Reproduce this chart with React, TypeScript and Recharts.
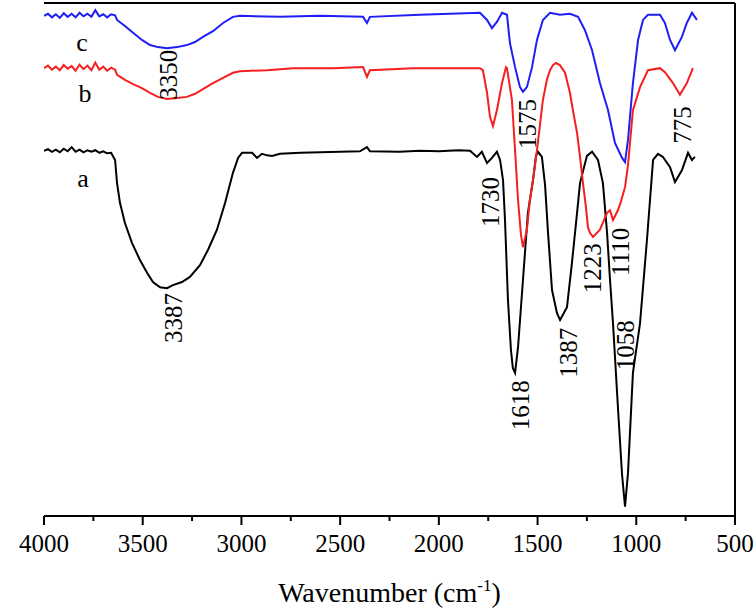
import React from 'react';
import { LineChart, Line, XAxis, YAxis, ReferenceLine, ReferenceDot, Label } from 'recharts';

const FONT = "'Liberation Serif', 'DejaVu Serif', serif";
const textStyle = { fontFamily: FONT };

// x axis ticks (wavenumber, cm-1)
const majorTicks = [4000, 3500, 3000, 2500, 2000, 1500, 1000, 500];
const minorTicks = [3750, 3250, 2750, 2250, 1750, 1250, 750];
const allTicks = [...majorTicks, ...minorTicks].sort((a, b) => b - a);

// spectrum a (black)
const waveA = [4000, 3980, 3960, 3940, 3920, 3900, 3880, 3860, 3840, 3820, 3800, 3780, 3760, 3740, 3720, 3700, 3680, 3660, 3640, 3630, 3615, 3590, 3554, 3514, 3478, 3448, 3412, 3377, 3347, 3301, 3261, 3210, 3169, 3124, 3083, 3043, 3017, 2997, 2946, 2921, 2896, 2870, 2845, 2805, 2700, 2600, 2500, 2400, 2364, 2349, 2200, 2096, 2000, 1900, 1842, 1807, 1782, 1756, 1731, 1706, 1690, 1675, 1665, 1650, 1635, 1625, 1614, 1599, 1574, 1549, 1523, 1508, 1498, 1478, 1462, 1447, 1427, 1402, 1386, 1351, 1326, 1300, 1285, 1250, 1224, 1194, 1169, 1148, 1133, 1118, 1093, 1072, 1057, 1042, 1017, 981, 946, 915, 890, 865, 829, 804, 769, 738, 718, 703];
const transA = [71.2, 71.5, 71.0, 71.4, 70.9, 71.6, 71.1, 71.9, 71.0, 71.4, 70.9, 71.3, 71.0, 71.3, 70.8, 71.1, 70.7, 70.8, 69.4, 64.9, 61.0, 57.1, 53.2, 49.9, 47.4, 45.6, 44.6, 44.4, 45.0, 45.6, 46.6, 48.9, 51.9, 55.8, 61.0, 66.9, 69.8, 70.8, 70.8, 69.8, 70.6, 70.3, 70.2, 70.6, 70.8, 70.9, 71.0, 71.1, 71.9, 71.1, 71.0, 71.2, 71.1, 71.3, 71.2, 70.0, 71.0, 68.8, 69.8, 71.0, 69.4, 65.5, 57.7, 42.1, 32.4, 28.8, 27.9, 32.9, 46.0, 59.1, 65.5, 70.2, 71.0, 70.0, 64.5, 55.2, 44.1, 39.6, 38.2, 40.7, 49.3, 59.1, 64.9, 70.2, 71.0, 69.4, 64.9, 55.2, 46.0, 37.6, 21.2, 8.0, 1.8, 8.4, 27.9, 37.6, 53.8, 69.4, 70.6, 70.0, 68.0, 65.1, 67.4, 70.8, 69.4, 70.0];

// spectrum b (red)
const waveB = [4000, 3980, 3960, 3940, 3920, 3900, 3880, 3860, 3840, 3820, 3800, 3780, 3760, 3740, 3720, 3700, 3680, 3660, 3640, 3630, 3590, 3549, 3504, 3463, 3423, 3377, 3326, 3276, 3235, 3195, 3144, 3093, 3043, 3007, 2870, 2739, 2536, 2384, 2364, 2349, 2131, 1944, 1792, 1777, 1756, 1741, 1726, 1706, 1680, 1660, 1655, 1630, 1614, 1599, 1584, 1574, 1554, 1539, 1523, 1503, 1488, 1473, 1453, 1437, 1422, 1407, 1387, 1361, 1336, 1321, 1300, 1285, 1270, 1255, 1245, 1235, 1219, 1184, 1148, 1133, 1118, 1093, 1080, 1057, 1042, 1017, 981, 941, 880, 855, 814, 779, 744, 713];
const transB = [87.3, 87.8, 87.0, 87.6, 86.9, 87.9, 87.2, 87.7, 86.8, 88.0, 87.1, 87.8, 86.9, 88.4, 87.0, 87.6, 86.8, 87.4, 87.0, 86.0, 85.0, 84.2, 83.4, 82.5, 81.7, 81.3, 81.5, 81.7, 82.3, 83.2, 84.4, 85.4, 86.4, 86.7, 86.9, 87.3, 87.3, 87.5, 85.6, 86.9, 87.3, 87.3, 87.3, 86.9, 82.5, 77.8, 76.0, 79.1, 84.4, 87.5, 87.3, 81.1, 71.3, 61.6, 54.8, 52.4, 55.8, 61.6, 65.5, 71.3, 76.2, 81.1, 85.0, 86.9, 87.9, 88.3, 87.9, 86.4, 82.5, 79.1, 74.7, 70.0, 64.9, 60.2, 56.3, 55.2, 54.4, 55.8, 59.1, 59.6, 57.7, 59.6, 61.0, 64.1, 68.4, 79.1, 83.6, 86.9, 87.3, 86.5, 84.4, 82.1, 84.4, 87.3];

// spectrum c (blue)
const waveC = [4000, 3980, 3960, 3940, 3920, 3900, 3880, 3860, 3840, 3820, 3800, 3780, 3760, 3740, 3720, 3700, 3680, 3660, 3640, 3630, 3590, 3549, 3504, 3463, 3423, 3377, 3326, 3276, 3235, 3195, 3144, 3093, 3043, 3007, 2805, 2602, 2384, 2364, 2349, 2096, 1792, 1756, 1731, 1706, 1680, 1655, 1640, 1614, 1589, 1574, 1554, 1528, 1503, 1473, 1437, 1387, 1336, 1295, 1260, 1224, 1184, 1143, 1108, 1072, 1057, 1042, 1017, 991, 966, 941, 880, 855, 829, 804, 769, 744, 718, 693];
const transC = [97.5, 97.9, 97.2, 97.8, 97.1, 98.0, 97.3, 97.9, 97.2, 98.1, 97.4, 97.9, 97.3, 98.6, 97.4, 97.8, 97.2, 97.8, 97.6, 96.7, 95.5, 94.2, 92.8, 91.8, 91.4, 91.2, 91.4, 91.8, 92.4, 93.4, 94.5, 96.1, 97.3, 97.5, 97.3, 97.5, 97.3, 96.1, 97.3, 97.7, 98.1, 96.7, 95.1, 96.3, 98.1, 97.7, 92.2, 87.5, 83.6, 82.7, 83.6, 87.5, 92.8, 96.7, 98.1, 97.7, 97.9, 97.3, 94.7, 90.8, 84.4, 79.1, 72.7, 69.8, 69.0, 73.3, 84.4, 92.8, 96.7, 97.7, 97.7, 96.1, 92.8, 90.8, 93.4, 96.1, 98.1, 96.7];

// peak annotations (text, anchor wavenumber, anchor transmittance)
const peakText = ['3350', '3387', '1730', '1575', '1618', '1387', '1223', '1110', '1058', '775'];
const peakWave = [3372, 3347, 1741, 1554, 1589, 1346, 1224, 1083, 1057, 769];
const peakTrans = [86.0, 38.6, 61.2, 76.4, 21.6, 31.8, 48.3, 51.5, 33.3, 76.2];

// sample names
const sampleText = ['a', 'b', 'c'];
const sampleWave = [3802, 3792, 3808];
const sampleTrans = [65.9, 82.5, 92.4];

const toPoints = (w: number[], t: number[]) => w.map((x, i) => ({ w: x, t: t[i] }));
const dataA = toPoints(waveA, transA);
const dataB = toPoints(waveB, transB);
const dataC = toPoints(waveC, transC);

const AxisTick = (props: any) => {
    const { x, y, payload } = props;
    const major = majorTicks.includes(payload.value);
    return (
        <g>
            <line x1={x} y1={y} x2={x} y2={y + (major ? 9 : 5)} stroke="#000" strokeWidth={2} />
            {major && (
                <text x={x} y={y + 36} textAnchor="middle" style={textStyle} fontSize={25} fill="#000">
                    {payload.value}
                </text>
            )}
        </g>
    );
};

const XTitle = (props: any) => {
    const vb = props.viewBox || {};
    return (
        <text x={vb.x + vb.width / 2} y={vb.y + 86} textAnchor="middle" style={textStyle} fontSize={28} fill="#000">
            Wavenumber (cm
            <tspan dy={-11} fontSize={17}>-1</tspan>
            <tspan dy={11}>)</tspan>
        </text>
    );
};

const YTitle = (props: any) => {
    const vb = props.viewBox || {};
    const cx = vb.x - 19;
    const cy = vb.y + vb.height / 2 + 2;
    return (
        <text x={cx} y={cy} transform={`rotate(-90, ${cx}, ${cy})`} textAnchor="middle" style={textStyle} fontSize={28} fill="#000">
            Transmittance (%)
        </text>
    );
};

const rotatedText = (text: string) => (p: any) => (
    <text
        x={p.cx}
        y={p.cy}
        dy="0.35em"
        transform={`rotate(-90, ${p.cx}, ${p.cy})`}
        textAnchor="middle"
        style={textStyle}
        fontSize={25}
        fill="#000"
    >
        {text}
    </text>
);

const plainText = (text: string) => (p: any) => (
    <text x={p.cx} y={p.cy} dy="0.35em" textAnchor="middle" style={textStyle} fontSize={26} fill="#000">
        {text}
    </text>
);

const App = () => {
    return (
        <div style={{ position: 'absolute', left: 0, top: 0, width: 756, height: 615, background: '#fff' }}>
            <LineChart width={756} height={615} margin={{ top: 3, right: 21, bottom: 39, left: 44 }}>
                <XAxis
                    dataKey="w"
                    type="number"
                    domain={[500, 4000]}
                    reversed
                    allowDataOverflow
                    ticks={allTicks}
                    interval={0}
                    tick={<AxisTick />}
                    tickLine={false}
                    tickSize={0}
                    tickMargin={0}
                    height={60}
                    axisLine={{ stroke: '#000', strokeWidth: 2 }}
                    label={<Label content={XTitle} />}
                />
                <YAxis
                    type="number"
                    domain={[0, 100]}
                    allowDataOverflow
                    width={0}
                    tick={false}
                    tickLine={false}
                    axisLine={{ stroke: '#000', strokeWidth: 2 }}
                    label={<Label content={YTitle} />}
                />
                <ReferenceLine y={100} stroke="#000" strokeWidth={2} />
                <ReferenceLine x={500} stroke="#000" strokeWidth={2} />
                <Line data={dataA} dataKey="t" type="linear" stroke="#000" strokeWidth={2} dot={false} isAnimationActive={false} />
                <Line data={dataB} dataKey="t" type="linear" stroke="#f51f1f" strokeWidth={2} dot={false} isAnimationActive={false} />
                <Line data={dataC} dataKey="t" type="linear" stroke="#1f1ff5" strokeWidth={2} dot={false} isAnimationActive={false} />
                {peakText.map((text, i) => (
                    <ReferenceDot key={text} x={peakWave[i]} y={peakTrans[i]} r={1} shape={rotatedText(text)} />
                ))}
                {sampleText.map((text, i) => (
                    <ReferenceDot key={text} x={sampleWave[i]} y={sampleTrans[i]} r={1} shape={plainText(text)} />
                ))}
            </LineChart>
        </div>
    );
};

export default App;
